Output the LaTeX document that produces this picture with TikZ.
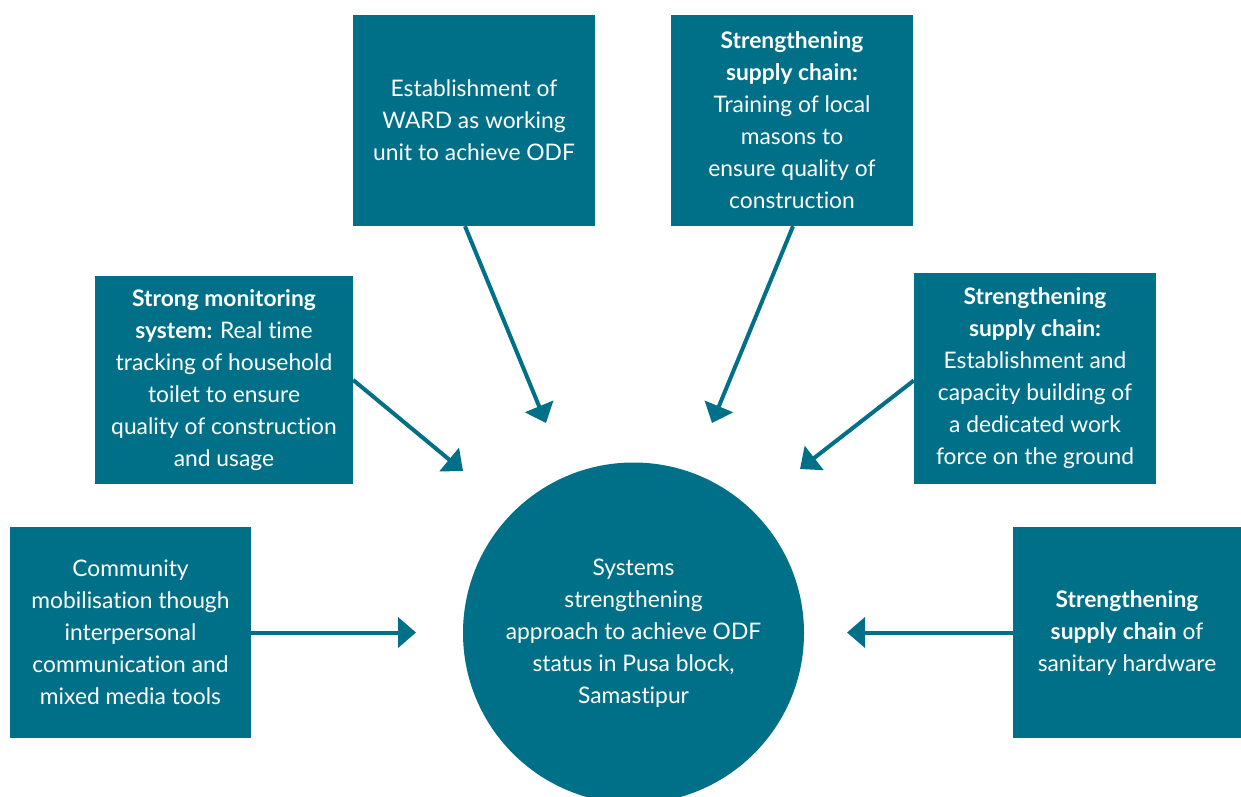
\documentclass[tikz,border=0pt]{standalone}
\usepackage{fontspec}
\setmainfont{Lato}[Ligatures={NoCommon,NoRare,NoContextual},RawFeature={-liga;-clig;-dlig;-calt}]
\usetikzlibrary{arrows.meta}
\definecolor{teal1}{RGB}{0,112,136}
\begin{document}
\begin{tikzpicture}[x=1pt,y=-1pt,
  box/.style={fill=teal1, text=white, inner sep=0pt, align=center,
    font=\fontsize{22.8}{32}\selectfont},
  conn/.style={draw=teal1, line width=4pt, -{Triangle[width=30pt,length=18pt]}}]
\useasboundingbox (0,0) rectangle (1241,796);
\clip (0,0) rectangle (1241,796);
\fill[white] (0,0) rectangle (1241,796);
% boxes
\node[box, minimum width=242pt, minimum height=211pt] (ward) at (474,120.5)
  {Establishment of\\WARD as working\\unit to achieve ODF};
\node[box, minimum width=242pt, minimum height=211pt] (train) at (792,120.5)
  {\textbf{Strengthening}\\\textbf{supply chain:}\\Training of local\\masons to\\ensure quality of\\construction};
\node[box, minimum width=258pt, minimum height=208pt] (mon) at (224,380)
  {\textbf{Strong monitoring}\\\textbf{system:} Real time\\tracking of household\\toilet to ensure\\quality of construction\\and usage};
\node[box, minimum width=242pt, minimum height=211pt] (est) at (1035,378.5)
  {\textbf{Strengthening}\\\textbf{supply chain:}\\Establishment and\\capacity building of\\a dedicated work\\force on the ground};
\node[box, minimum width=241pt, minimum height=211pt] (comm) at (130.5,632.5)
  {Community\\mobilisation though\\interpersonal\\communication and\\mixed media tools};
\node[box, minimum width=228pt, minimum height=211pt] (san) at (1127,632.5)
  {\textbf{Strengthening}\\\textbf{supply chain} of\\sanitary hardware};
\node[box, circle, minimum size=341pt] (hub) at (633.5,633)
  {Systems\\strengthening\\approach to achieve ODF\\status in Pusa block,\\Samastipur};
% arrow tips
\coordinate (t1) at (546,423);
\coordinate (t2) at (712,423);
\coordinate (t3) at (463,471);
\coordinate (t4) at (800,469);
\coordinate (t5) at (416,632.5);
\coordinate (t6) at (847,632.5);
\draw[conn] ([xshift=-9pt]ward.south) -- (t1);
\draw[conn] ([xshift=1pt]train.south) -- (t2);
\draw[conn] (mon.east) -- (t3);
\draw[conn] ([yshift=-2pt]est.west) -- (t4);
\draw[conn] (comm.east) -- (t5);
\draw[conn] (san.west) -- (t6);
\end{tikzpicture}
\end{document}
